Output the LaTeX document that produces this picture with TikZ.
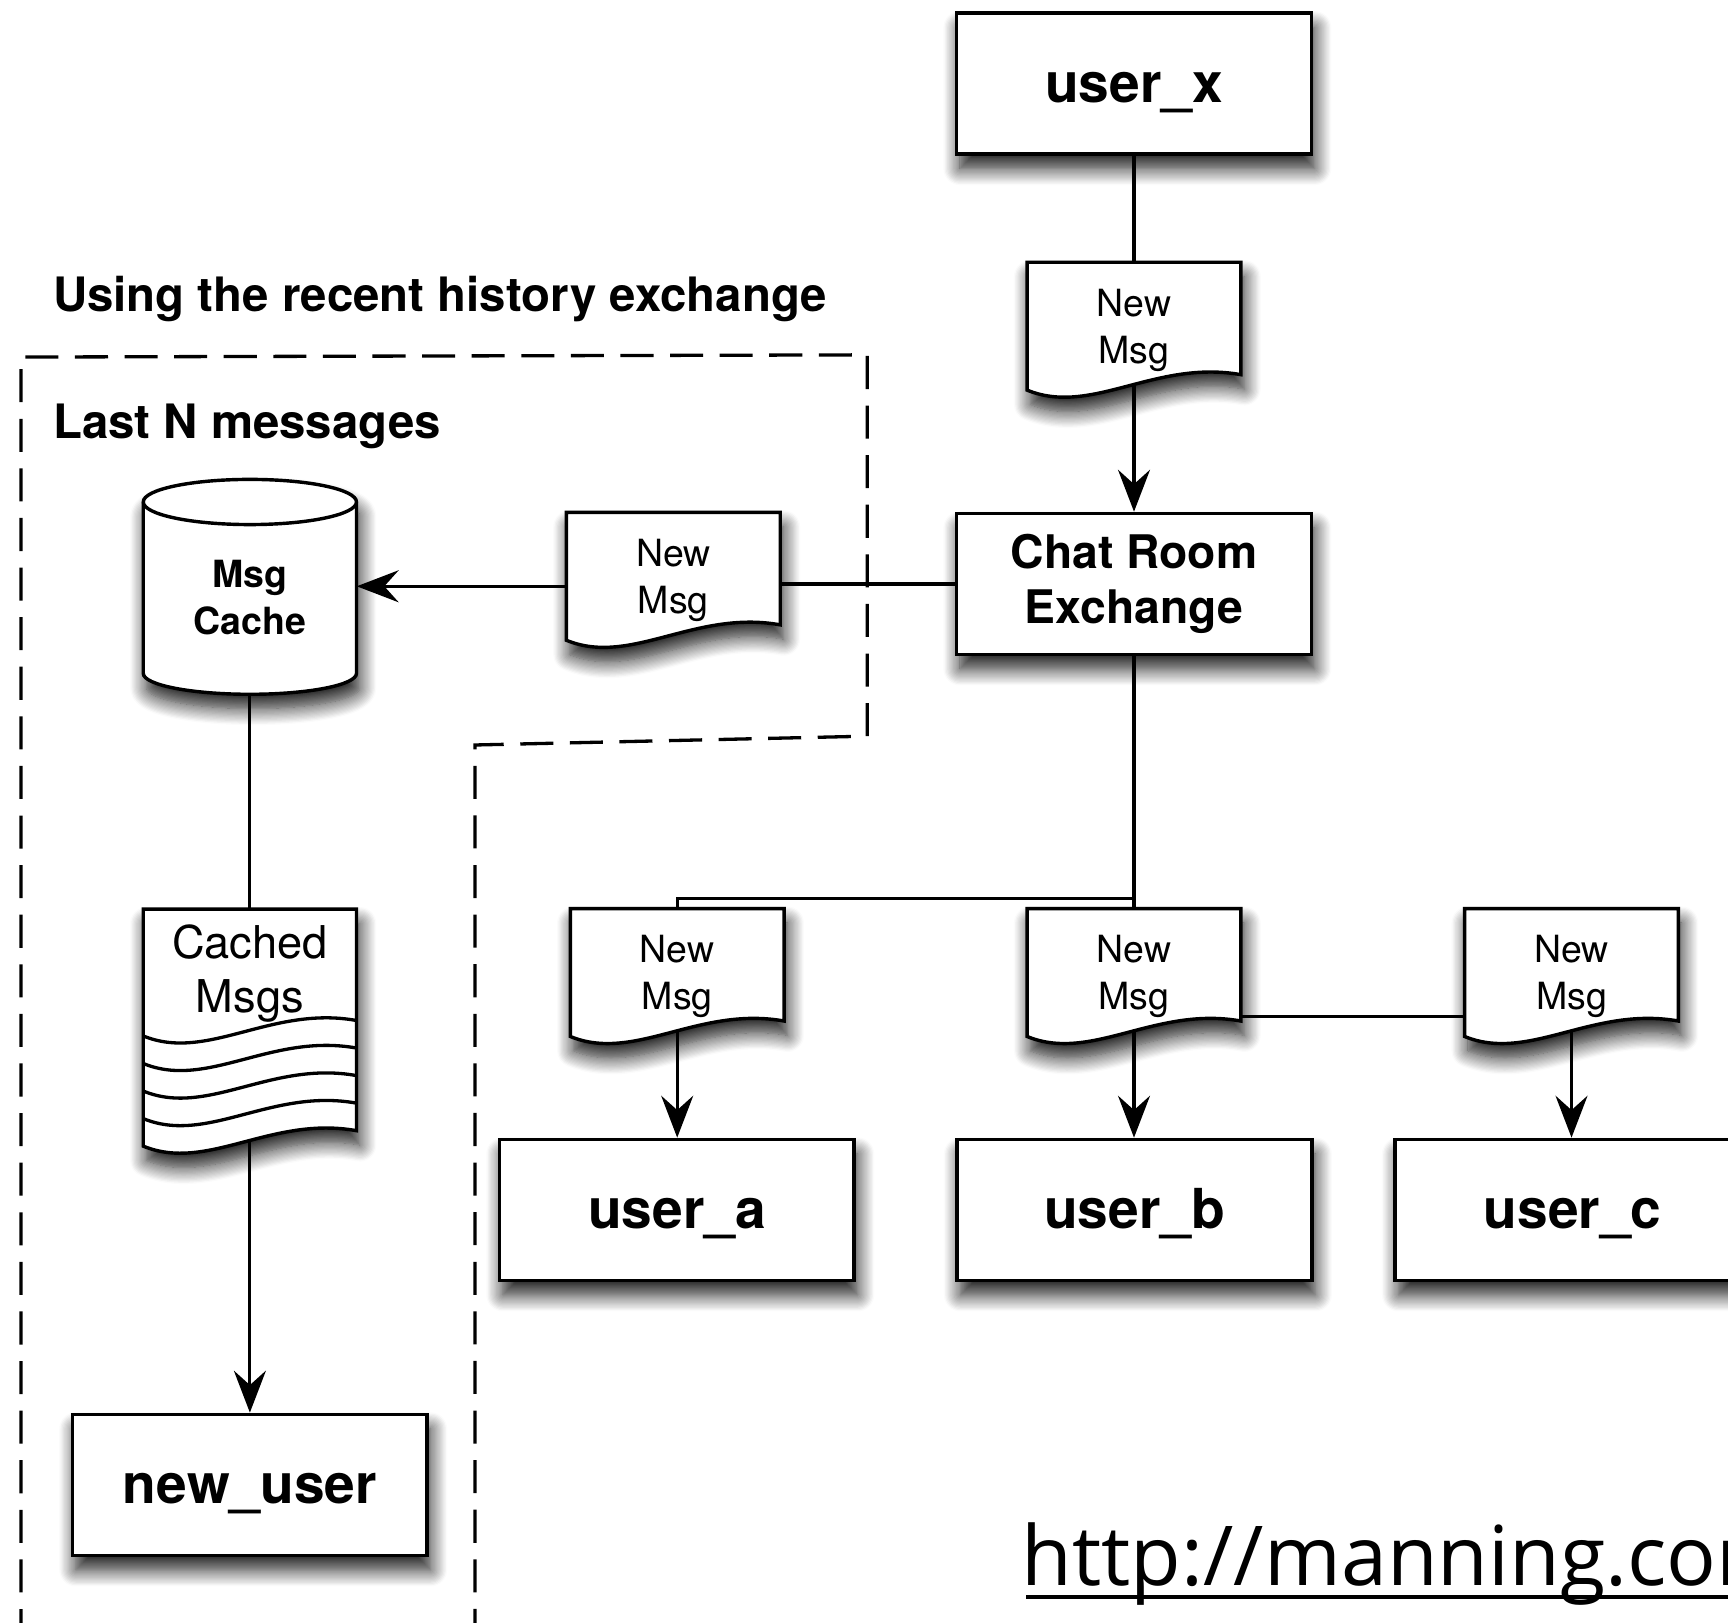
\documentclass[tikz,border=0pt]{standalone}
\usepackage{fontspec}
\setmainfont{TeX Gyre Heros}
\newfontfamily\urlfont{Open Sans}
\usetikzlibrary{arrows.meta,shadows.blur}
\tikzset{
  myshadow/.style={blur shadow={shadow xshift=3pt, shadow yshift=-13pt, shadow blur radius=15pt, shadow opacity=90, shadow blur steps=14}},
  basebox/.style={draw, line width=3.4pt, fill=white, myshadow, minimum width=322pt, minimum height=128pt, inner sep=0pt, align=center},
  userbox/.style={basebox, font=\bfseries\fontsize{50}{60}\selectfont, text height=40pt, text depth=6pt},
  outline/.style={draw, line width=3.1pt, fill=white, myshadow},
  conn/.style={line width=2.9pt},
  arr/.style={conn, -{Stealth[length=38pt, width=29pt, inset=13pt, fill=black]}},
  doctext/.style={inner sep=0pt, minimum width=194pt, align=center, font=\fontsize{34}{43}\selectfont},
  regionline/.style={line width=3pt, dash pattern=on 30pt off 15pt},
  titletext/.style={anchor=base west, inner sep=0pt, font=\bfseries\fontsize{43}{50}\selectfont},
}
\newcommand{\docshape}[3]{%
  \draw[outline] ({#2-97},{#3}) -- ({#2+97},{#3}) -- ({#2+97},{#3+102}) .. controls ({#2+19.4},{#3+88}) and ({#2-38.8},{#3+140}) .. ({#2-97},{#3+116}) -- cycle;
  \coordinate (#1-t) at (#2,#3);
  \coordinate (#1-b) at (#2,{#3+111});
  \coordinate (#1-l) at ({#2-97},{#3+67});
  \coordinate (#1-r) at ({#2+97},{#3+64});
  \coordinate (#1-wl) at ({#2-97},{#3+98});
  \coordinate (#1-el) at ({#2+97},{#3+98});
  \node[doctext] (#1) at (#2,{#3+61.6}) {New\\Msg};
}
\begin{document}
\begin{tikzpicture}[x=1pt,y=-1pt]
\useasboundingbox (0,0) rectangle (1568,1472);

% dashed region
\draw[regionline] (19,1490) -- (19,324) -- (787,322) -- (787,668) -- (431,676) -- (431,1490);

% titles
\node[titletext] (t1) at (48,283) {Using the recent history exchange};
\node[titletext] (t2) at (48,397.5) {Last N messages};

% cylinder (Msg Cache)
\draw[outline] (130,455.5) -- (130,611) arc[start angle=180, end angle=0, x radius=96.75, y radius=19] -- (323.5,455.5) arc[start angle=0, end angle=-180, x radius=96.75, y radius=20.5] -- cycle;
\draw[line width=3.1pt] (130,455.5) arc[start angle=180, end angle=0, x radius=96.75, y radius=20.5];
\node[doctext, minimum width=193.5pt, font=\bfseries\fontsize{34}{43}\selectfont] (cache) at (226.75,542.5) {Msg\\Cache};
\coordinate (cache-b) at (226.75,630);

% Cached Msgs (stack of documents)
\draw[outline] (130,825) -- (323.5,825) -- (323.5,1026) .. controls (246.1,1012) and (188,1064) .. (130,1040) -- cycle;
\foreach \yy in {940,965,990,1015}
  \draw[line width=3pt] (130,\yy) .. controls (188,{\yy+24}) and (246.1,{\yy-28}) .. (323.5,{\yy-14});
\node[doctext, minimum width=193.5pt, font=\fontsize{41}{49}\selectfont] (cm) at (226.75,883) {Cached\\Msgs};
\coordinate (cm-t) at (226.75,825);
\coordinate (cm-b) at (226.75,1035);

% documents
\docshape{d1}{1029}{238}
\docshape{d2}{611}{465}
\docshape{d3}{614.5}{824.5}
\docshape{d4}{1029}{824.5}
\docshape{d5}{1426}{824.5}

% boxes
\node[userbox] (ux) at (1029,76) {user\_x};
\node[basebox, font=\bfseries\fontsize{42}{50}\selectfont] (chat) at (1029,530) {Chat Room\\Exchange};
\node[userbox] (ua) at (614.25,1098) {user\_a};
\node[userbox] (ub) at (1029.5,1098) {user\_b};
\node[userbox] (uc) at (1427,1098) {user\_c};
\node[userbox] (nu) at (226.75,1347.5) {new\_user};

% URL (cut by the right edge, as in the reference)
\node[anchor=base west, inner sep=0pt, font=\urlfont\fontsize{75}{90}\selectfont] (url) at (927,1439) {http://manning.com};
\draw[line width=3.6pt] ([xshift=4pt,yshift=-10pt]url.base west) -- ++(700,0);

% connectors
\draw[conn] (ux.south) -- (d1-t);
\draw[arr] (d1-b) -- (chat.north);
\draw[conn] (chat.west) -- (chat.west -| d2-r);
\draw[arr] (d2-l) -- (d2-l -| cache.east);
\draw[conn] (cache-b) -- (cm-t);
\draw[arr] (cm-b) -- (nu.north);
\coordinate (split) at (1029,815);
\draw[conn] (chat.south) -- (d4-t);
\draw[conn] (split) -| (d3-t);
\draw[conn] (d4-el) -- (d5-wl);
\draw[arr] (d3-b) -- (d3-b |- ua.north);
\draw[arr] (d4-b) -- (d4-b |- ub.north);
\draw[arr] (d5-b) -- (d5-b |- uc.north);
\end{tikzpicture}
\end{document}
